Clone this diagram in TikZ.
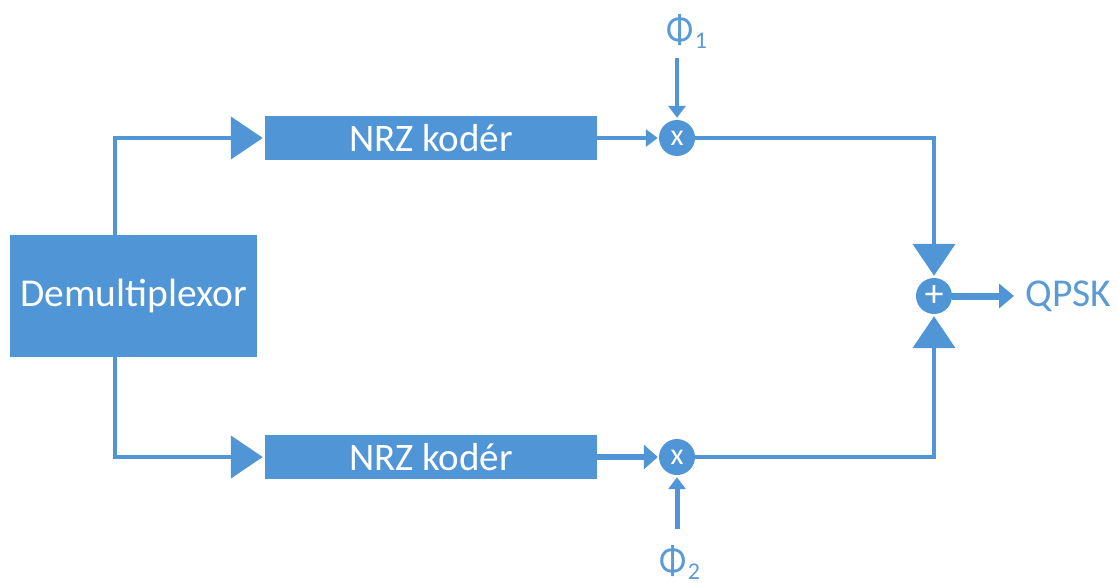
\documentclass[tikz,border=0pt]{standalone}
\usepackage{fontspec}
\setmainfont{Carlito}
\usetikzlibrary{arrows.meta,calc}
\definecolor{blu}{HTML}{5095D6}
\definecolor{txtblu}{HTML}{5B9BD5}
\tikzset{
  x=1pt,y=-1pt,
  boxn/.style={fill=blu,draw=none,text=white,inner sep=0pt,anchor=center},
  junc/.style={circle,fill=blu,draw=none,text=white,minimum size=36pt,inner sep=0pt},
  lab/.style={text=txtblu,inner sep=0pt},
  wire/.style={draw=blu,line width=4.5pt},
  bigtip/.style={wire,-{Triangle[length=32pt,width=42pt]},shorten >=2pt},
  midtip/.style={wire,-{Triangle[length=14pt,width=24pt]},shorten >=2pt},
  smalltip/.style={draw=blu,line width=4pt,-{Triangle[length=12pt,width=17pt]},shorten >=2pt},
}
\begin{document}
\begin{tikzpicture}
\useasboundingbox (0,0) rectangle (1118,583);
\node[boxn,minimum width=247pt,minimum height=122pt,font=\fontsize{39.5}{39.5}\selectfont] (demux) at (133.5,296) {Demultiplexor};
\node[boxn,minimum width=332pt,minimum height=44pt,font=\fontsize{39}{39}\selectfont] (nrza) at (431,138) {NRZ kodér};
\node[boxn,minimum width=332pt,minimum height=44pt,font=\fontsize{39}{39}\selectfont] (nrzb) at (431,457) {NRZ kodér};
\node[junc,font=\fontsize{30}{30}\selectfont] (xa) at (677,138) {x};
\node[junc,font=\fontsize{30}{30}\selectfont] (xb) at (677,457) {x};
\node[junc,font=\fontsize{38}{38}\selectfont] (sum) at (934,296) {+};
\node[lab,font=\fontsize{39.5}{39.5}\selectfont] (qpsk) at (1068.5,296) {QPSK};
\node[lab,font=\fontsize{42}{42}\selectfont] (phia) at (687,31) {\scalebox{0.85}[1]{Φ}\kern1pt\raisebox{-5pt}{\fontsize{24}{24}\selectfont 1}};
\node[lab,font=\fontsize{42}{42}\selectfont] (phib) at (680,562) {\scalebox{0.85}[1]{Φ}\kern1pt\raisebox{-5pt}{\fontsize{24}{24}\selectfont 2}};
\coordinate (da) at (115,235);
\coordinate (db) at (115,357);
\coordinate (pa) at (677,58);
\coordinate (pb) at (677,529);
\coordinate (qa) at (1014,296);
\draw[bigtip] (da) |- (nrza.west);
\draw[bigtip] (db) |- (nrzb.west);
\draw[smalltip,shorten >=1pt] (nrza.east) -- (xa.west);
\draw[midtip,line width=6pt,shorten >=1pt] (nrzb.east) -- (xb.west);
\draw[smalltip] (pa) -- (xa.north);
\draw[smalltip,line width=5pt] (pb) -- (xb.south);
\draw[bigtip] (xa.east) -| (sum.north);
\draw[bigtip] (xb.east) -| (sum.south);
\draw[wire,line width=7pt,-{Triangle[length=15pt,width=24pt]}] (sum.east) -- (qa);
\end{tikzpicture}
\end{document}
